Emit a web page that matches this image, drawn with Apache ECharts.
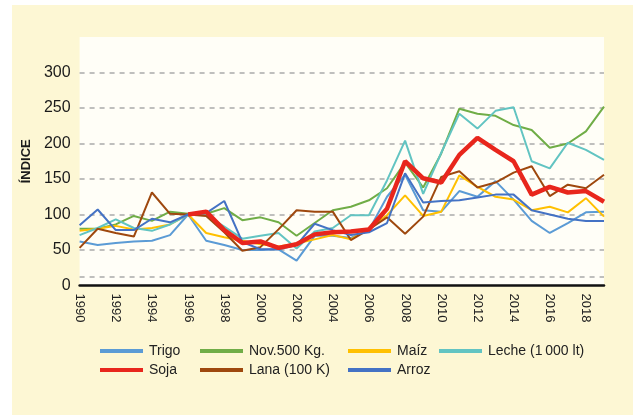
<!DOCTYPE html>
<html>
<head>
<meta charset="utf-8">
<script src="https://cdn.jsdelivr.net/npm/echarts@6/dist/echarts.min.js"></script>
<style>
  html, body { margin: 0; padding: 0; background: #ffffff; }
  #box { position: absolute; left: 12px; top: 5px; width: 621px; height: 410px; background: #fdf7d4; }
  #chart { width: 621px; height: 410px; }
</style>
</head>
<body>
<div id="box"><div id="chart"></div></div>
<script>
const years = ['1990', '1991', '1992', '1993', '1994', '1995', '1996', '1997', '1998', '1999',
  '2000', '2001', '2002', '2003', '2004', '2005', '2006', '2007', '2008', '2009',
  '2010', '2011', '2012', '2013', '2014', '2015', '2016', '2017', '2018', '2019']

const trigo = [62, 57, 60, 62, 63, 71, 100, 63, 57, 50, 50, 51, 35, 70, 70, 67, 78, 125, 156, 106, 104, 133, 125, 147, 121, 91, 74, 88, 103, 104]
const novillo = [80, 80, 86, 98, 91, 104, 101, 101, 109, 92, 96, 89, 70, 88, 106, 111, 120, 137, 173, 138, 186, 249, 242, 239, 226, 219, 194, 200, 217, 252]
const maiz = [77, 80, 84, 79, 81, 86, 100, 74, 68, 63, 58, 55, 59, 65, 71, 65, 81, 99, 127, 98, 104, 155, 139, 125, 121, 106, 111, 103, 123, 97]
const leche = [71, 81, 93, 81, 77, 86, 100, 99, 83, 66, 70, 74, 52, 76, 81, 99, 99, 148, 204, 129, 187, 242, 221, 246, 251, 175, 165, 201, 191, 177]
const soja = [null, null, null, null, null, null, 100, 104, 78, 60, 62, 53, 58, 72, 75, 76, 79, 108, 175, 151, 145, 184, 208, 191, 175, 128, 139, 131, 133, 118]
const lana = [53, 80, 74, 69, 131, 101, 100, 98, 75, 49, 54, 79, 106, 104, 104, 64, 79, 96, 73, 97, 153, 161, 138, 145, 159, 168, 126, 142, 137, 156]
const arroz = [85, 107, 78, 78, 94, 89, 100, 102, 119, 61, 51, 51, 57, 87, 78, 71, 75, 88, 158, 117, 119, 120, 124, 128, 128, 106, 100, 94, 91, 91]

const names = ['Trigo', 'Nov.500 Kg.', 'Maíz', 'Leche (1\u2009000 lt)', 'Soja', 'Lana (100 K)', 'Arroz']
const colors = ['#5b9bd5', '#70ad47', '#ffc000', '#62c4c2', '#e8261c', '#9e480e', '#4472c4']
const values = [trigo, novillo, maiz, leche, soja, lana, arroz]

const font = 'Liberation Sans, Arial, sans-serif'

function legendCol(left, items) {
  return {
    orient: 'vertical',
    left: left,
    top: 339,
    padding: 0,
    data: items,
    icon: 'rect',
    itemWidth: 43,
    itemHeight: 4,
    itemGap: 5,
    selectedMode: false,
    textStyle: { color: '#222', fontSize: 14, fontFamily: font, padding: [0, 0, 0, 1] },
  }
}

// draw order: soja last so the thick red line sits on top
const order = [0, 1, 2, 3, 5, 6, 4]
const series = order.map((i) => {
  const s = {
    name: names[i],
    type: 'line',
    data: values[i],
    symbol: 'none',
    smooth: false,
    color: colors[i],
    lineStyle: { width: i === 4 ? 4.5 : 2, color: colors[i] },
    z: i === 4 ? 5 : 3,
  }
  if (i === 0) {
    s.markLine = {
      silent: true,
      symbol: 'none',
      label: { show: false },
      lineStyle: { color: '#ababab', type: [5, 5], width: 1.5 },
      data: [{ yAxis: 12.4 }],
    }
  }
  return s
})

const chart = echarts.init(document.getElementById('chart'))
chart.setOption({
  animation: false,
  backgroundColor: '#fdf7d4',
  grid: {
    left: 64,
    right: 29,
    top: 32,
    bottom: 129.5,
    show: true,
    backgroundColor: '#fffef7',
    borderWidth: 0,
  },
  legend: [
    legendCol(88, [names[0], names[4]]),
    legendCol(188, [names[1], names[5]]),
    legendCol(336, [names[2], names[6]]),
    legendCol(427, [names[3]]),
  ],
  xAxis: {
    type: 'category',
    data: years,
    boundaryGap: false,
    axisLine: { lineStyle: { color: '#111', width: 2.5 } },
    axisTick: { show: false },
    axisLabel: {
      interval: 1,
      rotate: -90,
      margin: 8,
      color: '#222',
      fontSize: 13,
      fontFamily: font,
    },
  },
  yAxis: {
    type: 'value',
    min: 0,
    max: 350,
    interval: 50,
    name: 'ÍNDICE',
    nameLocation: 'middle',
    nameGap: 44,
    nameRotate: 90,
    nameTextStyle: { color: '#1a1a1a', fontSize: 13, fontWeight: 'bold', fontFamily: font },
    axisLine: { show: false },
    axisTick: { show: false },
    axisLabel: {
      showMaxLabel: false,
      margin: 9,
      color: '#1a1a1a',
      fontSize: 16,
      fontFamily: font,
    },
    splitLine: {
      showMinLine: false,
      showMaxLine: false,
      lineStyle: { color: '#ababab', type: [5, 5], width: 1.5 },
    },
  },
  series: series,
})
</script>
</body>
</html>
